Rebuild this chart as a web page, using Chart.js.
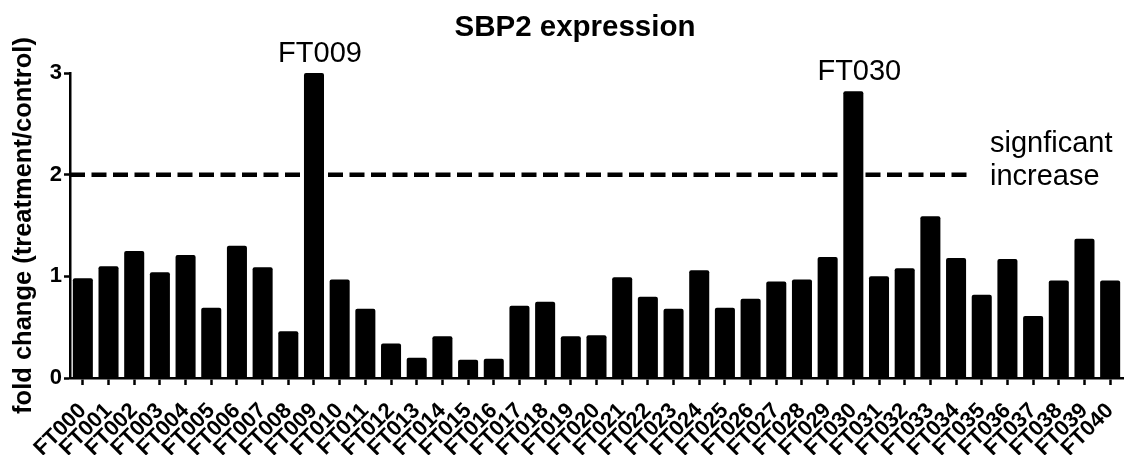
<!DOCTYPE html>
<html>
<head>
<meta charset="utf-8">
<script src="https://cdn.jsdelivr.net/npm/chart.js@4.4.1/dist/chart.umd.min.js"></script>
<style>
    html, body { margin: 0; padding: 0; background: #fff; }
    #wrap { width: 1126px; height: 455px; position: relative; }
</style>
</head>
<body>
<div id="wrap"><canvas id="sbp2-chart"></canvas></div>
<script>
// Data
const sampleLabels = ['FT000', 'FT001', 'FT002', 'FT003', 'FT004', 'FT005', 'FT006', 'FT007', 'FT008', 'FT009',
    'FT010', 'FT011', 'FT012', 'FT013', 'FT014', 'FT015', 'FT016', 'FT017', 'FT018', 'FT019',
    'FT020', 'FT021', 'FT022', 'FT023', 'FT024', 'FT025', 'FT026', 'FT027', 'FT028', 'FT029',
    'FT030', 'FT031', 'FT032', 'FT033', 'FT034', 'FT035', 'FT036', 'FT037', 'FT038', 'FT039', 'FT040'];
const foldChange = [0.98, 1.10, 1.25, 1.04, 1.21, 0.69, 1.30, 1.09, 0.46, 3.00,
    0.97, 0.68, 0.34, 0.20, 0.41, 0.18, 0.19, 0.71, 0.75, 0.41,
    0.42, 0.99, 0.80, 0.68, 1.06, 0.69, 0.78, 0.95, 0.97, 1.19,
    2.82, 1.00, 1.08, 1.59, 1.18, 0.82, 1.17, 0.61, 0.96, 1.37, 0.96];
const yTicks = [0, 1, 2, 3];
const threshold = 2;
const highlighted = ['FT009', 'FT030'];

const FONT = 'Arial, "Liberation Sans", Helvetica, sans-serif';

// Title, threshold line and text notes
const notesPlugin = {
    id: 'notes',
    beforeDatasetsDraw(chart) {
        const { ctx, chartArea, scales } = chart;
        const y = scales.y.getPixelForValue(threshold);
        ctx.save();
        ctx.strokeStyle = '#000';
        ctx.lineWidth = 4.5;
        ctx.setLineDash([15, 6.5]);
        ctx.beginPath();
        ctx.moveTo(chartArea.left, y);
        ctx.lineTo(972, y);
        ctx.stroke();
        ctx.restore();
    },
    afterDatasetsDraw(chart) {
        const { ctx, scales } = chart;
        const xs = scales.x, ys = scales.y;
        ctx.save();
        ctx.fillStyle = '#000';
        ctx.textBaseline = 'alphabetic';

        ctx.font = 'bold 29.5px ' + FONT;
        ctx.textAlign = 'center';
        ctx.fillText('SBP2 expression', 575, 36);

        ctx.font = '29px ' + FONT;
        highlighted.forEach(name => {
            const i = sampleLabels.indexOf(name);
            const x = xs.getPixelForValue(i) + 6;
            const top = ys.getPixelForValue(Math.min(foldChange[i], ys.max));
            ctx.fillText(name, x, top - 11);
        });

        const yt = ys.getPixelForValue(threshold);
        ctx.textAlign = 'left';
        ctx.fillText('signficant', 990, yt - 23);
        ctx.fillText('increase', 990, yt + 10);
        ctx.restore();
    }
};

const ctx = document.getElementById('sbp2-chart');
new Chart(ctx, {
    type: 'bar',
    data: {
        labels: sampleLabels,
        datasets: [{
            data: foldChange,
            backgroundColor: '#000',
            borderWidth: 0,
            borderRadius: 2,
            barPercentage: 0.78,
            categoryPercentage: 1.0
        }]
    },
    options: {
        responsive: true,
        maintainAspectRatio: false,
        animation: false,
        layout: {
            padding: { top: 73, right: 3, left: 0, bottom: 0 }
        },
        plugins: {
            legend: { display: false },
            tooltip: { enabled: false },
            title: { display: false }
        },
        scales: {
            x: {
                offset: true,
                afterFit: scale => {
                    scale.height = 77;
                    scale.paddingLeft = 0;
                    scale.paddingRight = 0;
                },
                grid: {
                    offset: false,
                    drawOnChartArea: false,
                    drawTicks: true,
                    tickLength: 7,
                    tickWidth: 2.5,
                    color: '#000'
                },
                border: { display: true, color: '#000', width: 2.5 },
                ticks: {
                    autoSkip: false,
                    minRotation: 45,
                    maxRotation: 45,
                    padding: 13,
                    color: '#000',
                    font: { family: FONT, size: 22, weight: 'bold' }
                }
            },
            y: {
                min: 0,
                max: 3,
                afterFit: scale => { scale.width = 70; },
                afterBuildTicks: scale => { scale.ticks = yTicks.map(v => ({ value: v })); },
                grid: {
                    drawOnChartArea: false,
                    drawTicks: true,
                    tickLength: 6,
                    tickWidth: 2.5,
                    color: '#000'
                },
                border: { display: true, color: '#000', width: 2.5 },
                ticks: {
                    padding: 2,
                    color: '#000',
                    font: { family: FONT, size: 22, weight: 'bold' }
                },
                title: {
                    display: true,
                    text: 'fold change (treatment/control)',
                    color: '#000',
                    padding: { top: 9, bottom: 0 },
                    font: { family: FONT, size: 25.5, weight: 'bold' }
                }
            }
        }
    },
    plugins: [notesPlugin]
});
</script>
</body>
</html>
